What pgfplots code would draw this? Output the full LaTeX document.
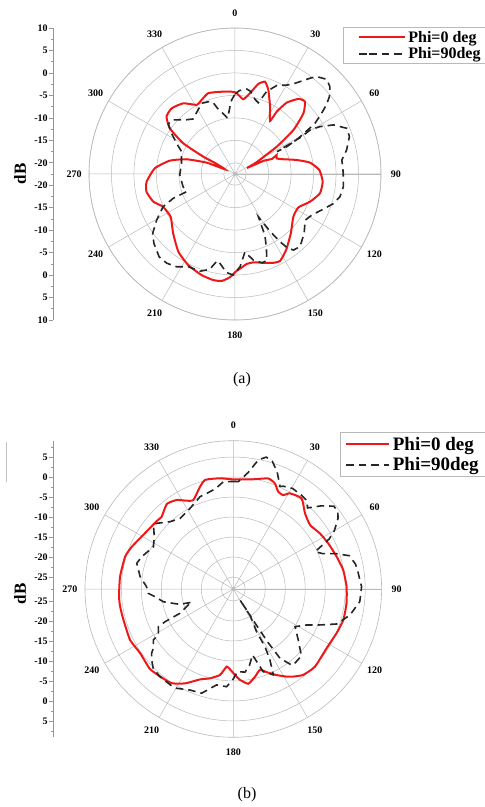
\documentclass[border=0pt]{standalone}
\usepackage{fontspec}
\setmainfont{Liberation Serif}
\usepackage{pgfplots}
\pgfplotsset{compat=1.18}
\usepgfplotslibrary{polar}
\definecolor{gridgray}{RGB}{185,185,185}
\definecolor{axgray}{RGB}{150,150,150}
\definecolor{pred}{RGB}{238,24,24}
\pgfplotsset{
  mypolar/.style={
    scale only axis,
    xmin=0, xmax=360, ymin=0,
    xtick={0,30,...,330},
    xticklabels={90,60,30,0,330,300,270,240,210,180,150,120},
    yticklabel style={opacity=0, text opacity=0},
    ytick style={draw=none},
    xtick style={draw=none},
    grid=major,
    major grid style={gridgray, line width=0.5pt},
    axis line style={gridgray, line width=0.6pt},
    xticklabel style={font=\bfseries\fontsize{10}{11}\selectfont, anchor=center,
      xshift={15pt*cos(\tick)}, yshift={15pt*sin(\tick)}},
    legend cell align=left,
    clip=false,
  },
  redline/.style={pred, line width=2pt, smooth, tension=0.3},
  blackdash/.style={black!85, line width=1.6pt, dash pattern=on 7.5pt off 5pt},
  leftaxis/.style={
    scale only axis, width=1pt,
    xmin=0, xmax=1,
    hide x axis, axis y line*=left,
    axis line style={axgray, line width=0.6pt},
    tick align=outside, major tick length=4pt, minor tick length=2.5pt,
    tick style={axgray, line width=0.6pt},
    yticklabel style={font=\bfseries\fontsize{10}{11}\selectfont, inner sep=1.5pt},
  },
}
\begin{document}
\begin{tikzpicture}
\path[use as bounding box] (0,0) rectangle (485pt,807pt);

% ---------------- (a) ----------------
\begin{axis}[leftaxis,
  at={(53.3pt,633pt)}, anchor=west, height=292pt,
  ymin=-32.5, ymax=32.5,
  ytick={-32.5,-27.5,...,32.5},
  yticklabels={10,5,0,-5,-10,-15,-20,-20,-15,-10,-5,0,5,10},
  minor ytick={-30,-25,...,30},
]
\end{axis}

\begin{polaraxis}[mypolar,
  at={(235pt,633pt)}, anchor=center,
  width=292pt, height=292pt,
  ymax=32.5, ytick={2.5,7.5,...,32.5},
  x filter/.expression={90-x}, y filter/.expression={y+22.5},
  legend style={at={(0.870,1.003)}, anchor=north west, draw=gridgray, line width=0.6pt,
    font=\bfseries\fontsize{16}{17}\selectfont, inner xsep=15pt, inner ysep=1.5pt,
    row sep=0pt, nodes={inner sep=2pt}},
  legend image code/.code={\path (0pt,0pt) -- (10pt,0pt); \draw[#1] (10pt,0pt) -- (46pt,0pt);},
]
\addplot[redline] table[x=ang, y=dB] {
ang dB
0 -4.3
1.2 -4.5
6.3 -5.75
10.5 -4.2
14.5 -1.8
18 -0.9
21.6 -2.35
27.5 -5.6
33.4 -8.3
33.8 -5.8
35.9 -2.9
40.2 -0.6
44 -0.1
48.4 -2.1
53 -6.2
56.8 -11.4
61.9 -17.4
63.4 -19.5
65.3 -15.5
67.8 -13.6
65.5 -12.3
69.5 -12.6
73.1 -11.2
77.2 -8.4
81.4 -5.6
87.3 -3.7
95 -2.9
102.8 -3.1
110.3 -4.7
117.8 -6.55
126.2 -6.4
136.8 -4.35
146.1 -2.1
152.6 -0.7
157 -1.0
162.3 -1.75
168 -2.4
172.6 -2.3
176 -1.6
179 -0.95
182.8 0.5
187.1 1.5
191.6 1.6
198.3 1.2
207.2 0.3
216.1 -1.1
226.1 -3.4
236.4 -5.3
245.5 -4.9
251.3 -3.3
258.7 -2.4
265 -2.75
274.1 -4.6
281.6 -7.7
286.9 -11.2
291.8 -15.7
295 -20
298.8 -17.5
298.6 -14.4
300.7 -9.1
305 -4.8
310 -2.6
316.1 -2.2
323.8 -3.0
331 -4.9
335.8 -4.4
341.7 -3.55
349.6 -3.9
356.5 -4.1
360 -4.3
};
\addlegendentry{Phi=0 deg}
\addplot[blackdash] table[x=ang, y=dB] {
ang dB
0 -4.7
3.0 -3.9
7.9 -3.4
10.8 -3.8
15 -5.3
18.1 -5.8
21 -2.8
25.3 -0.7
30.2 0.4
32.9 1.4
38.1 4.6
40 5.8
44.1 6.85
47.4 6.2
50.7 4.65
52.9 3.0
55 1.0
57.6 -1.4
58.5 -3.0
60.6 -6.3
62.2 -9.4
62 -11.9
60.8 -5.5
59.6 -3.1
60.9 -0.8
63.5 2.0
67.8 4.4
71.9 4.3
77.9 2.9
82.5 1.5
89.6 1.6
96.7 1.8
102.2 1.4
106.7 0.4
112.5 -1.6
118.1 -3.1
123.3 -3.8
130.7 -2.2
138.2 -0.8
142.5 -1.15
144.8 -2.5
146.4 -4.4
148.5 -7.5
151.4 -11.6
153 -9.3
154 -7.3
157 -4.6
159.8 -2.0
163 -1.8
168 -2.9
172.7 -5.0
176.9 -1.8
181 0.0
185 -0.5
189.5 -2.3
191.5 -2.8
195 -0.5
199.8 0.5
206.7 0.6
212.2 1.9
217.4 2.5
222.5 2.5
229.5 1.25
234.2 0.1
239.6 -2.3
245.5 -4.9
248.5 -7.7
249.9 -11.0
256.2 -10.6
269 -10.2
281.4 -10.35
292.7 -9.6
297.8 -7.8
302.7 -5.7
306.9 -3.9
311.2 -4.2
318.2 -6.3
322.7 -7.1
330.2 -6.0
332.5 -5.6
334.8 -5.1
340.9 -5.4
343 -5.9
345 -7.3
352.5 -9.95
355.8 -7.4
357.4 -6.0
360 -4.7
};
\addlegendentry{Phi=90deg}
\end{polaraxis}

% ---------------- (b) ----------------
\begin{axis}[leftaxis,
  at={(53.3pt,218pt)}, anchor=west, height=296pt,
  ymin=-37, ymax=37,
  ytick={-33,-28,-23,-18,-13,-8,-3,3,8,13,18,23,28,33},
  yticklabels={5,0,-5,-10,-15,-20,-25,-25,-20,-15,-10,-5,0,5},
  minor ytick={-35.5,-30.5,-25.5,-20.5,-15.5,-10.5,-5.5,0,5.5,10.5,15.5,20.5,25.5,30.5,35.5},
]
\end{axis}

\begin{polaraxis}[mypolar,
  at={(233.3pt,218pt)}, anchor=center,
  width=296.6pt, height=296.6pt,
  ymax=37.1, ytick={3,8,...,33},
  x filter/.expression={90-x}, y filter/.expression={y+28},
  legend style={at={(0.860,1.029)}, anchor=north west, draw=gridgray, line width=0.6pt,
    font=\bfseries\fontsize{19}{20}\selectfont, inner xsep=5pt, inner ysep=2pt,
    row sep=1pt, nodes={inner sep=2.5pt}},
  legend image code/.code={\draw[#1] (0pt,0pt) -- (43pt,0pt);},
]
\addplot[redline] table[x=ang, y=dB] {
ang dB
0 -0.6
10.3 -0.1
17.5 1.0
21.5 0.4
24.8 -1.2
28 -1.4
30.6 -0.2
37 0.4
43.4 -1.9
50.2 -3.0
57.3 -2.25
64.3 -1.65
72.6 -0.9
80.2 -0.1
88.8 0.35
97.2 0.55
105.7 0.6
113.2 0.1
122.4 -0.35
133.6 0.2
140.9 -0.3
145.6 -1.45
148.7 -2.35
153.3 -3.9
158.2 -5.6
161.8 -6.7
166.1 -5.4
171 -4.0
175.8 -5.2
178.9 -6.5
182.4 -7.9
184.9 -8.5
188.8 -6.25
194.6 -4.9
200.2 -3.9
207 -1.5
213.4 0.2
221.1 0.6
226.4 0.9
235.4 0.3
243.7 0.8
254.3 0.55
261.1 0.65
266.2 0.65
276.2 0.5
286.6 0.25
292.6 -0.5
301.7 -1.8
311.9 -2.4
315.2 -2.55
322 -1.0
327.5 -1.6
332.1 -3.0
335.8 -3.6
342 -1.1
345.6 0.2
353.1 -0.1
360 -0.6
};
\addlegendentry{Phi=0 deg}
\addplot[blackdash] table[x=ang, y=dB] {
ang dB
0 -1.1
2.7 -1.1
7.3 1.4
11 4.9
14 6.0
17 5.4
20.5 3.3
24.5 0.2
26 0.6
30.5 1.2
36 1.0
39.5 0.8
42.5 -0.5
46.5 2.2
50.5 4.6
53.6 4.5
56 3.6
60 1.2
62.5 -1.0
65.5 -5.5
68.5 -3.9
71 -0.8
74 2.2
78.5 3.2
82.5 3.5
86.5 3.8
89 4.1
95.7 3.8
102.6 1.9
108.7 -0.7
112.5 -4.5
116.2 -7.6
121.4 -9.9
128.1 -7.35
134.5 -4.1
141.7 -3.8
142.5 -4.0
146 -7.1
147 -12
147.5 -18
148.7 -24.8
147.3 -20.3
151.4 -15.85
151.2 -11.5
152.7 -8.0
155 -4.3
160.1 -6.0
163.8 -10.8
168 -8.5
172 -7.0
177.1 -7.3
180 -5.5
183.9 -3.5
189.9 -3.65
196.9 -0.75
203.2 -0.5
209.7 0.6
213 0.7
219.9 0.6
225.3 0.2
229 -0.95
231.8 -2.0
233.5 -3.1
237.5 -4.3
238.5 -6.0
243.3 -7.0
244.4 -9.1
245.5 -13.3
251.7 -16.6
252.3 -17.1
254 -14.1
258.1 -11.4
259.7 -10.2
264.4 -8.3
267.1 -6.7
271.5 -6.3
277.5 -4.5
284.9 -3.0
289.4 -3.7
297.9 -5.4
303.5 -4.3
308.7 -2.4
310.6 -2.75
316.8 -4.9
323 -5.9
331.8 -5.1
340.2 -3.45
344.4 -3.2
350 -2.5
354.7 -1.05
360 -1.1
};
\addlegendentry{Phi=90deg}
\end{polaraxis}

% labels and captions
\node[rotate=90, font=\bfseries\fontsize{17}{18}\selectfont] at (20pt,633pt) {dB};
\node[rotate=90, font=\bfseries\fontsize{17}{18}\selectfont] at (20pt,213pt) {dB};
\node[font=\fontsize{16}{18}\selectfont] at (242pt,427pt) {(a)};
\node[font=\fontsize{16}{18}\selectfont] at (247pt,12pt) {(b)};
\draw[gray!50, line width=0.6pt] (6.7pt,365.3pt) -- (6.7pt,325.3pt);
\end{tikzpicture}
\end{document}
